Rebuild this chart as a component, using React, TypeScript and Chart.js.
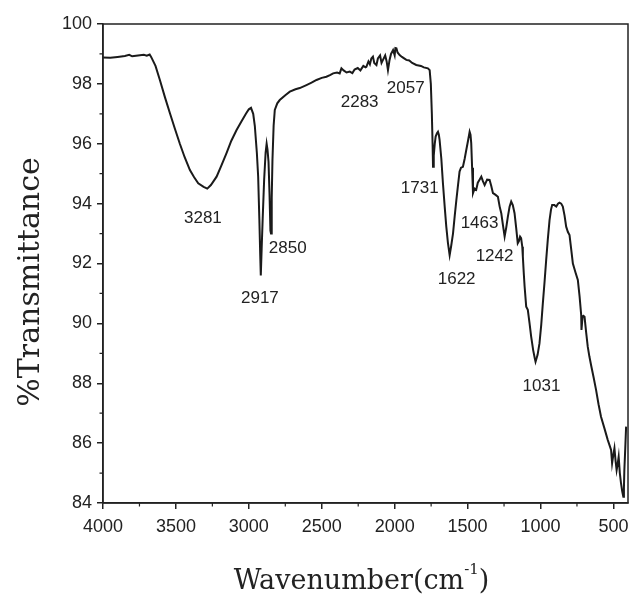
import React, { useEffect, useRef } from 'react';
import { Chart, registerables } from 'chart.js';

Chart.register(...registerables);

// FTIR spectrum: wavenumber (cm^-1) and % transmittance
const wavenumber = [
  4000, 3950, 3900, 3850, 3820, 3800, 3760, 3720, 3700, 3680, 3670,
  3640, 3610, 3575, 3541, 3507, 3473, 3440, 3404, 3375, 3347, 3310, 3285, 3260, 3221, 3190, 3153, 3120, 3084, 3050, 3020, 3000, 2985, 2970, 2959, 2945, 2936, 2928, 2922, 2918, 2912, 2905, 2895, 2885, 2878, 2872, 2865, 2858, 2852, 2848, 2843, 2838, 2830, 2822, 2805, 2788, 2750, 2719, 2680, 2651, 2605, 2570, 2536, 2500, 2468, 2440, 2422, 2395, 2377, 2365, 2350, 2330, 2308, 2290, 2275, 2253, 2235, 2215, 2200, 2194, 2180, 2170, 2160, 2149, 2140, 2125, 2115, 2100, 2090, 2080, 2065, 2055, 2046, 2035, 2025, 2011, 2000, 1995, 1988, 1980, 1966, 1950, 1935, 1920, 1900, 1880, 1852, 1820, 1800, 1772, 1760, 1752, 1745, 1740, 1737, 1732, 1725, 1719, 1710, 1703, 1697, 1692, 1680, 1669, 1657, 1646, 1635, 1623, 1612, 1600, 1588, 1577, 1566, 1555, 1545, 1532, 1520, 1509, 1497, 1486, 1480, 1475, 1469, 1463, 1452, 1441, 1430, 1418, 1406, 1395, 1383, 1366, 1349, 1338, 1326, 1310, 1292, 1280, 1269, 1258, 1246, 1235, 1224, 1212, 1201, 1190, 1178, 1167, 1156, 1148, 1140, 1133, 1125, 1121, 1115, 1109, 1098, 1087, 1075, 1064, 1050, 1040, 1034, 1020, 1007, 995, 984, 972, 961, 950, 938, 928, 920, 905, 892, 880, 870, 858, 847, 835, 824, 812, 801, 790, 778, 760, 744, 732, 721, 719, 712, 705, 698, 687, 676, 665, 653, 636, 619, 602, 585, 562, 539, 528, 516, 509, 501, 493, 485, 478, 471, 464, 456, 448, 440, 432, 428, 425, 419, 413,
];
const transmittance = [
  98.88, 98.87, 98.9, 98.93, 98.97, 98.92, 98.95, 98.97, 98.94, 98.98, 98.9,
  98.6, 98.13, 97.55, 97.02, 96.5, 96.0, 95.55, 95.12, 94.88, 94.68, 94.56, 94.5, 94.62, 94.9, 95.25, 95.69, 96.1, 96.46, 96.75, 97.0, 97.15, 97.2, 97.0, 96.6, 95.7, 94.9, 93.5, 92.3, 91.6, 92.5, 93.5, 94.8, 95.7, 96.0, 95.8, 95.4, 94.3, 93.1, 93.0, 94.2, 95.46, 96.6, 97.13, 97.35, 97.46, 97.62, 97.74, 97.82, 97.86, 97.96, 98.04, 98.13, 98.2, 98.24, 98.3, 98.35, 98.38, 98.35, 98.52, 98.45, 98.38, 98.41, 98.36, 98.48, 98.53, 98.45, 98.6, 98.55, 98.57, 98.75, 98.65, 98.85, 98.91, 98.7, 98.63, 98.85, 98.95, 98.7, 98.8, 98.95, 98.75, 98.46, 98.8, 99.0, 99.13, 98.95, 99.2, 99.19, 99.05, 98.96, 98.9, 98.85, 98.8, 98.78, 98.7, 98.63, 98.6, 98.55, 98.52, 98.46, 98.0, 97.0, 96.0, 95.23, 95.6, 96.0, 96.24, 96.35, 96.4, 96.3, 96.13, 95.5, 94.68, 93.9, 93.23, 92.7, 92.28, 92.6, 93.0, 93.6, 94.12, 94.6, 95.07, 95.2, 95.23, 95.5, 95.79, 96.1, 96.4, 96.3, 96.02, 95.2, 94.35, 94.5, 94.46, 94.7, 94.8, 94.9, 94.75, 94.62, 94.8, 94.79, 94.6, 94.35, 94.3, 94.23, 93.9, 93.68, 93.3, 92.9, 93.2, 93.56, 93.9, 94.07, 93.95, 93.68, 93.2, 92.68, 92.75, 92.9, 92.85, 92.56, 92.23, 91.7, 91.23, 90.56, 90.45, 90.0, 89.56, 89.1, 88.85, 88.72, 88.95, 89.33, 89.95, 90.67, 91.4, 92.12, 92.8, 93.45, 93.8, 93.95, 93.95, 93.9, 94.0, 94.03, 94.0, 93.9, 93.6, 93.23, 93.05, 92.95, 92.5, 92.0, 91.7, 91.45, 90.9, 90.28, 89.78, 90.2, 90.25, 90.22, 89.7, 89.22, 88.9, 88.6, 88.2, 87.78, 87.3, 86.88, 86.5, 86.11, 85.95, 85.77, 85.33, 85.6, 85.83, 85.4, 85.1, 85.3, 85.55, 85.0, 84.66, 84.4, 84.21, 84.5, 85.1, 85.8, 86.55,
];

const xMajorTicks = [500, 1000, 1500, 2000, 2500, 3000, 3500, 4000];
const xMinorTicks = [750, 1250, 1750, 2250, 2750, 3250, 3750];
const yMajorTicks = [84, 86, 88, 90, 92, 94, 96, 98, 100];
const yMinorTicks = [85, 87, 89, 91, 93, 95, 97, 99];

const peakLabels = ['3281', '2917', '2850', '2283', '2057', '1731', '1622', '1463', '1242', '1031'];
const peakLabelWavenumber = [3315, 2924, 2733, 2240, 1924, 1828, 1575, 1418, 1315, 993];
const peakLabelTransmittance = [93.52, 90.85, 92.52, 97.4, 97.86, 94.52, 91.48, 93.35, 92.25, 87.9];

const yTitle = '%Transmittance';
const xTitleMain = 'Wavenumber(cm';
const xTitleSup = '-1';
const xTitleEnd = ')';

const INK = '#222222';
const SANS = '"Liberation Sans", Arial, sans-serif';
const SERIF = '"DejaVu Serif", "Liberation Serif", serif';

const decorPlugin = {
  id: 'decor',
  afterDraw(chart: any) {
    const { ctx, chartArea: a, scales } = chart;
    const x = scales.x;
    const y = scales.y;
    ctx.save();
    // frame
    ctx.strokeStyle = INK;
    ctx.lineWidth = 1.5;
    ctx.strokeRect(a.left, a.top, a.right - a.left, a.bottom - a.top);
    // minor ticks
    ctx.lineWidth = 1.2;
    ctx.beginPath();
    xMinorTicks.forEach((v) => {
      const px = x.getPixelForValue(v);
      ctx.moveTo(px, a.bottom);
      ctx.lineTo(px, a.bottom + 3.5);
    });
    yMinorTicks.forEach((v) => {
      const py = y.getPixelForValue(v);
      ctx.moveTo(a.left, py);
      ctx.lineTo(a.left - 3.5, py);
    });
    ctx.stroke();
    // peak labels
    ctx.font = `17px ${SANS}`;
    ctx.fillStyle = INK;
    ctx.textAlign = 'center';
    ctx.textBaseline = 'middle';
    peakLabels.forEach((t, i) => {
      ctx.fillText(t, x.getPixelForValue(peakLabelWavenumber[i]), y.getPixelForValue(peakLabelTransmittance[i]));
    });
    // y title
    ctx.save();
    ctx.translate(39, 282);
    ctx.rotate(-Math.PI / 2);
    ctx.font = `30px ${SERIF}`;
    ctx.textAlign = 'center';
    ctx.textBaseline = 'alphabetic';
    ctx.fillStyle = INK;
    ctx.fillText(yTitle, 0, 0);
    ctx.restore();
    // x title
    ctx.font = `27px ${SERIF}`;
    const wMain = ctx.measureText(xTitleMain).width;
    ctx.font = `15px ${SERIF}`;
    const wSup = ctx.measureText(xTitleSup).width;
    ctx.font = `27px ${SERIF}`;
    const wEnd = ctx.measureText(xTitleEnd).width;
    const total = wMain + wSup + wEnd;
    const cx = (a.left + a.right) / 2;
    let sx = cx - total / 2 - 4;
    const base = 589;
    ctx.textAlign = 'left';
    ctx.textBaseline = 'alphabetic';
    ctx.fillText(xTitleMain, sx, base);
    sx += wMain;
    ctx.font = `15px ${SERIF}`;
    ctx.fillText(xTitleSup, sx, base - 15);
    sx += wSup;
    ctx.font = `27px ${SERIF}`;
    ctx.fillText(xTitleEnd, sx, base);
    ctx.restore();
  },
};

export default function App() {
  const ref = useRef<HTMLCanvasElement | null>(null);
  useEffect(() => {
    document.body.style.margin = '0';
    document.body.style.background = '#ffffff';
    const canvas = ref.current;
    if (!canvas) return;
    const chart = new Chart(canvas, {
      type: 'line',
      data: {
        datasets: [
          {
            data: wavenumber.map((w, i) => ({ x: w, y: transmittance[i] })),
            borderColor: '#1a1a1a',
            borderWidth: 2,
            pointRadius: 0,
            tension: 0,
            fill: false,
          },
        ],
      },
      options: {
        animation: false,
        responsive: false,
        devicePixelRatio: 1,
        layout: { padding: { left: 0, top: 24, right: 3, bottom: 0 } },
        plugins: { legend: { display: false }, tooltip: { enabled: false } },
        scales: {
          x: {
            type: 'linear',
            reverse: true,
            min: 400,
            max: 4000,
            afterBuildTicks: (s: any) => {
              s.ticks = xMajorTicks.map((v) => ({ value: v }));
            },
            afterFit: (s: any) => {
              s.height = 93;
            },
            grid: { drawOnChartArea: false, drawTicks: true, tickLength: 6, color: INK, lineWidth: 1.5 },
            border: { display: true, color: INK, width: 1.5 },
            ticks: {
              color: INK,
              font: { family: SANS, size: 18 },
              padding: 7,
              maxRotation: 0,
              autoSkip: false,
              callback: (v: any) => String(v),
            },
          },
          y: {
            type: 'linear',
            min: 84,
            max: 100,
            afterBuildTicks: (s: any) => {
              s.ticks = yMajorTicks.map((v) => ({ value: v }));
            },
            afterFit: (s: any) => {
              s.width = 103;
            },
            grid: { drawOnChartArea: false, drawTicks: true, tickLength: 6, color: INK, lineWidth: 1.5 },
            border: { display: true, color: INK, width: 1.5 },
            ticks: {
              color: INK,
              font: { family: SANS, size: 18 },
              padding: 5,
              autoSkip: false,
              callback: (v: any) => String(v),
            },
          },
        },
      },
      plugins: [decorPlugin],
    });
    return () => chart.destroy();
  }, []);
  return (
    <div style={{ width: 631, height: 596, overflow: 'hidden' }}>
      <canvas ref={ref} width={631} height={596} style={{ display: 'block' }} />
    </div>
  );
}
